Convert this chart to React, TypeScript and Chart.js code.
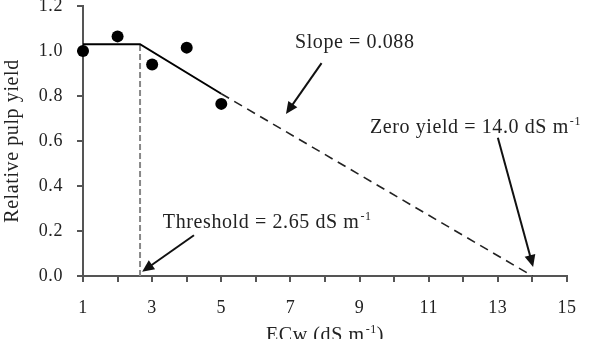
import React, { useEffect, useRef } from 'react';
import { Chart, registerables } from 'chart.js';

Chart.register(...registerables);

const FONT = "'Liberation Serif', 'Times New Roman', serif";
const TEXT = '#222';
const AXIS = '#555';

// Observed points
const ecw = [1, 2, 3, 4, 5];
const relYield = [1.0, 1.065, 0.94, 1.015, 0.765];

// Fitted threshold-slope model
const fitX = [1, 2.65, 5];
const fitY = [1.03, 1.03, 0.81];
const extX = [5, 14];
const extY = [0.81, 0];
const thresholdX = [2.65, 2.65];
const thresholdY = [0, 1.03];

// Axis ticks
const xMin = 1;
const xMax = 15;
const xLabelled = [1, 3, 5, 7, 9, 11, 13, 15];
const yMin = 0;
const yMax = 1.2;
const yStep = 0.2;

// Annotation texts, anchored in data units
const noteText = ['Slope = 0.088', 'Zero yield = 14.0 dS m', 'Threshold = 2.65 dS m'];
const noteSup = ['', '-1', '-1'];
const noteX = [7.13, 9.3, 3.31];
const noteY = [1.012, 0.637, 0.215];

// Arrows (tail -> tip), in data units
const arrowFromX = [7.9, 13.0, 4.21];
const arrowFromY = [0.946, 0.614, 0.181];
const arrowToX = [6.87, 14.02, 2.71];
const arrowToY = [0.72, 0.04, 0.019];

const xTitle = 'ECw (dS m';
const xTitleSup = '-1';
const xTitleEnd = ')';
const yTitle = 'Relative pulp yield';

const pts = (xs: number[], ys: number[]) => xs.map((x, i) => ({ x, y: ys[i] }));

function drawSupText(ctx: CanvasRenderingContext2D, x: number, y: number, main: string, sup: string, end: string, size: number, align: 'left' | 'center') {
  ctx.save();
  ctx.fillStyle = TEXT;
  ctx.textBaseline = 'alphabetic';
  ctx.textAlign = 'left';
  const mainFont = `${size}px ${FONT}`;
  const supFont = `${Math.round(size * 0.6)}px ${FONT}`;
  ctx.font = mainFont;
  const wMain = ctx.measureText(main).width;
  const wEnd = end ? ctx.measureText(end).width : 0;
  ctx.font = supFont;
  const wSup = sup ? ctx.measureText(sup).width : 0;
  const total = wMain + wSup + wEnd + (sup ? 1 : 0);
  let sx = align === 'center' ? x - total / 2 : x;
  ctx.font = mainFont;
  ctx.fillText(main, sx, y);
  sx += wMain + (sup ? 1 : 0);
  if (sup) {
    ctx.font = supFont;
    ctx.fillText(sup, sx, y - size * 0.38);
    sx += wSup;
  }
  if (end) {
    ctx.font = mainFont;
    ctx.fillText(end, sx, y);
  }
  ctx.restore();
}

function drawArrow(ctx: CanvasRenderingContext2D, fx: number, fy: number, tx: number, ty: number) {
  const ang = Math.atan2(ty - fy, tx - fx);
  const headLen = 12;
  const headW = 5.5;
  const c = Math.cos(ang);
  const s = Math.sin(ang);
  const bx = tx - c * headLen;
  const by = ty - s * headLen;
  ctx.save();
  ctx.strokeStyle = '#111';
  ctx.fillStyle = '#111';
  ctx.lineWidth = 2;
  ctx.setLineDash([]);
  ctx.beginPath();
  ctx.moveTo(fx, fy);
  ctx.lineTo(bx + c * 2, by + s * 2);
  ctx.stroke();
  ctx.beginPath();
  ctx.moveTo(tx, ty);
  ctx.lineTo(bx + s * headW, by - c * headW);
  ctx.lineTo(bx - s * headW, by + c * headW);
  ctx.closePath();
  ctx.fill();
  ctx.restore();
}

const annotationPlugin = {
  id: 'annotations',
  beforeDraw(chart: any) {
    chart.ctx.letterSpacing = '0.6px';
  },
  afterDraw(chart: any) {
    const ctx: CanvasRenderingContext2D = chart.ctx;
    const xs = chart.scales.x;
    const ys = chart.scales.y;
    ctx.save();
    (ctx as any).letterSpacing = '0.6px';
    for (let i = 0; i < noteText.length; i++) {
      drawSupText(ctx, xs.getPixelForValue(noteX[i]), ys.getPixelForValue(noteY[i]), noteText[i], noteSup[i], '', 20, 'left');
    }
    for (let i = 0; i < arrowFromX.length; i++) {
      drawArrow(
        ctx,
        xs.getPixelForValue(arrowFromX[i]),
        ys.getPixelForValue(arrowFromY[i]),
        xs.getPixelForValue(arrowToX[i]),
        ys.getPixelForValue(arrowToY[i])
      );
    }
    const area = chart.chartArea;
    drawSupText(ctx, (area.left + area.right) / 2, chart.height + 2, xTitle, xTitleSup, xTitleEnd, 20, 'center');
    ctx.restore();
  },
};

export default function App() {
  const ref = useRef<HTMLCanvasElement>(null);
  useEffect(() => {
    const chart = new Chart(ref.current!, {
      type: 'scatter',
      data: {
        datasets: [
          {
            label: 'Observed',
            data: pts(ecw, relYield),
            pointRadius: 6,
            pointHoverRadius: 6,
            backgroundColor: '#000',
            borderWidth: 0,
            clip: false,
          } as any,
          {
            label: 'Fit',
            data: pts(fitX, fitY),
            showLine: true,
            pointRadius: 0,
            borderColor: '#000',
            borderWidth: 2,
          },
          {
            label: 'Extrapolation',
            data: pts(extX, extY),
            showLine: true,
            pointRadius: 0,
            borderColor: '#222',
            borderWidth: 1.6,
            borderDash: [9, 6],
          },
          {
            label: 'Threshold',
            data: pts(thresholdX, thresholdY),
            showLine: true,
            pointRadius: 0,
            borderColor: '#888',
            borderWidth: 2,
            borderDash: [6, 3],
          },
        ],
      },
      options: {
        responsive: false,
        animation: false,
        devicePixelRatio: 1,
        layout: { padding: { top: 3, right: 22, left: 0, bottom: 0 } },
        plugins: { legend: { display: false }, tooltip: { enabled: false } },
        scales: {
          x: {
            type: 'linear',
            min: xMin,
            max: xMax,
            afterFit: (s: any) => {
              s.height = 63;
              s.paddingLeft = 0;
              s.paddingRight = 0;
            },
            border: { display: true, color: AXIS, width: 2 },
            grid: { drawOnChartArea: false, drawTicks: true, tickLength: 6, color: AXIS, lineWidth: 2 },
            ticks: {
              stepSize: 1,
              autoSkip: false,
              maxRotation: 0,
              padding: 15,
              color: TEXT,
              font: { family: FONT, size: 18 },
              callback: (v: any) => (xLabelled.includes(Number(v)) ? String(v) : ''),
            },
          },
          y: {
            type: 'linear',
            min: yMin,
            max: yMax,
            afterFit: (s: any) => {
              s.width = 83;
              s.paddingTop = 0;
              s.paddingBottom = 0;
            },
            border: { display: true, color: AXIS, width: 2 },
            grid: { drawOnChartArea: false, drawTicks: true, tickLength: 6, color: AXIS, lineWidth: 2 },
            title: {
              display: true,
              text: yTitle,
              color: TEXT,
              font: { family: FONT, size: 20 },
              padding: { top: 1, bottom: 0 },
            },
            ticks: {
              stepSize: yStep,
              padding: 14,
              color: TEXT,
              font: { family: FONT, size: 18 },
              callback: (v: any) => Number(v).toFixed(1),
            },
          },
        },
      },
      plugins: [annotationPlugin],
    });
    return () => chart.destroy();
  }, []);
  return (
    <div style={{ position: 'fixed', left: 0, top: 0, width: 589, height: 339, background: '#fff' }}>
      <canvas ref={ref} width={589} height={339} style={{ display: 'block' }} />
    </div>
  );
}
